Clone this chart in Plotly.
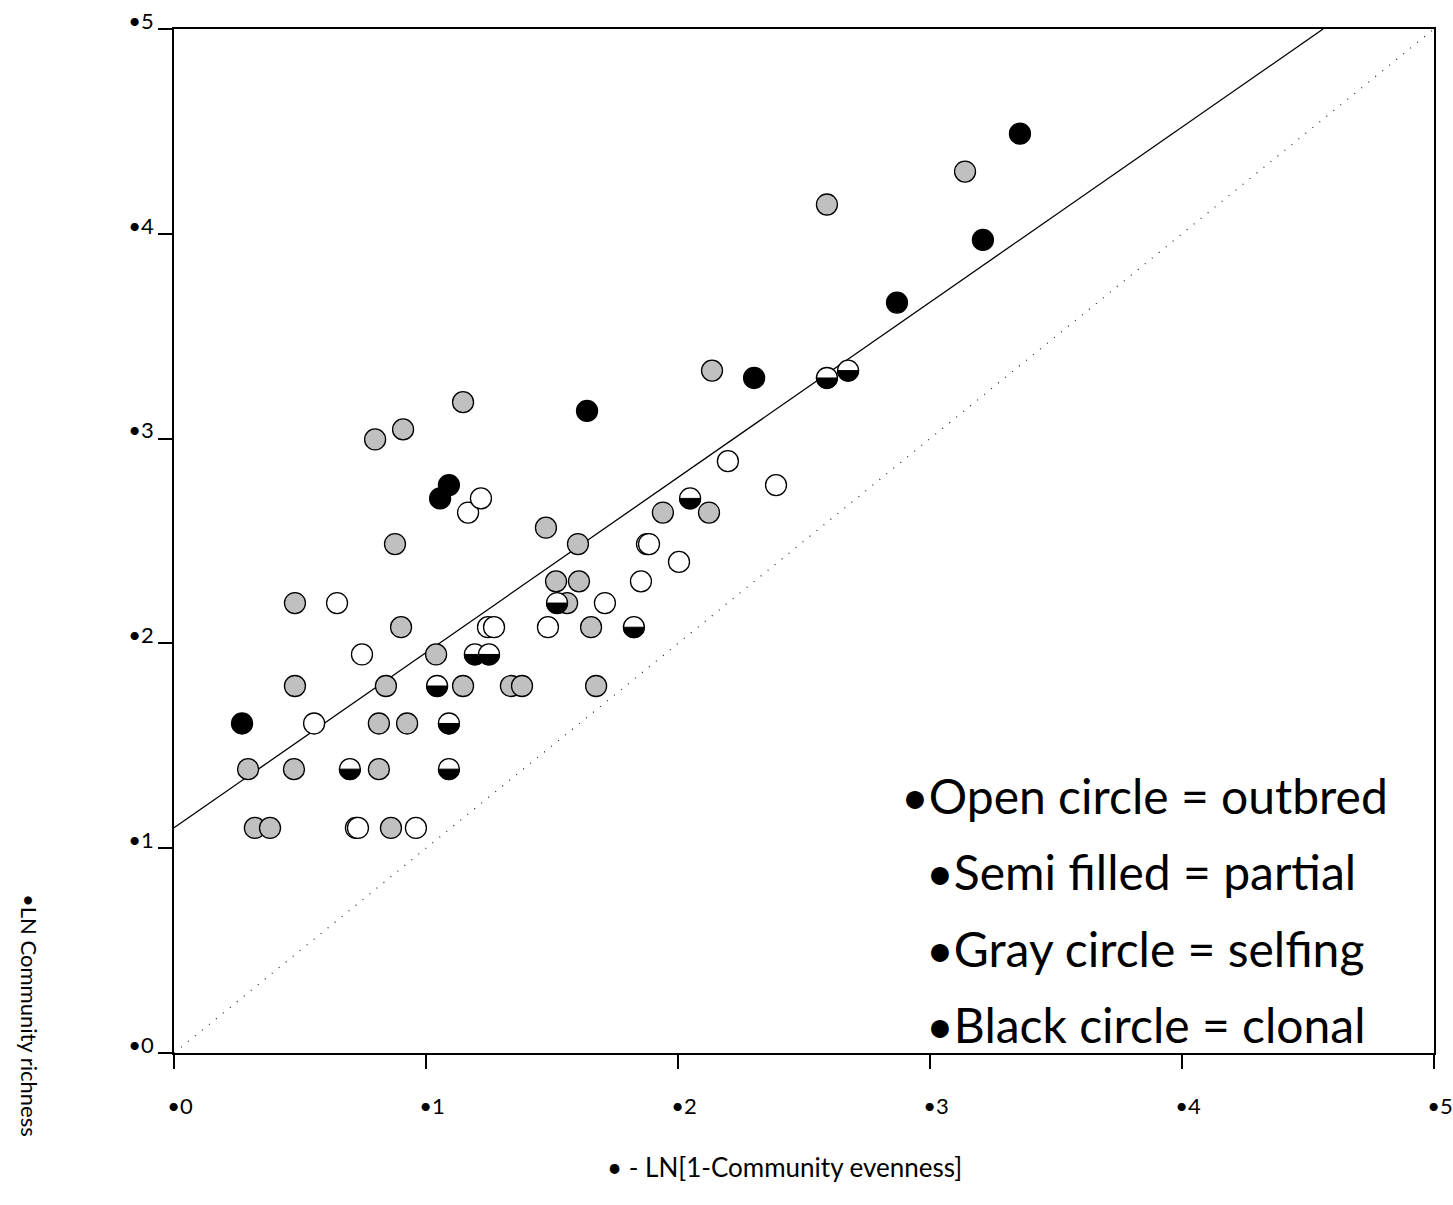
import plotly.graph_objects as go

# ---- data ----
open_x = [0.556, 0.647, 0.722, 0.730, 0.960, 0.746, 1.167, 1.218, 1.246, 1.270,
          1.484, 1.710, 1.853, 1.877, 1.885, 2.004, 2.198, 2.389]
open_y = [1.609, 2.197, 1.099, 1.099, 1.099, 1.946, 2.639, 2.708, 2.079, 2.079,
          2.079, 2.197, 2.303, 2.485, 2.485, 2.398, 2.890, 2.773]

gray_x = [0.294, 0.321, 0.381, 0.476, 0.480, 0.480, 0.798, 0.813, 0.813, 0.841,
          0.861, 0.877, 0.901, 0.909, 0.925, 1.040, 1.147, 1.147, 1.337, 1.381,
          1.476, 1.516, 1.560, 1.603, 1.607, 1.655, 1.675, 1.940, 2.123, 2.135,
          2.591, 3.139]
gray_y = [1.386, 1.099, 1.099, 1.386, 2.197, 1.792, 2.996, 1.609, 1.386, 1.792,
          1.099, 2.485, 2.079, 3.045, 1.609, 1.946, 3.178, 1.792, 1.792, 1.792,
          2.565, 2.303, 2.197, 2.485, 2.303, 2.079, 1.792, 2.639, 2.639, 3.332,
          4.143, 4.304]

black_x = [0.270, 1.056, 1.091, 1.639, 2.302, 2.869, 3.210, 3.357]
black_y = [1.609, 2.708, 2.773, 3.135, 3.296, 3.664, 3.970, 4.489]

semi_x = [0.698, 1.044, 1.091, 1.091, 1.194, 1.250, 1.520, 1.825, 2.048, 2.591, 2.675]
semi_y = [1.386, 1.792, 1.609, 1.386, 1.946, 1.946, 2.197, 2.079, 2.708, 3.296, 3.332]

fit_x = [0.0, 4.56]
fit_y = [1.10, 5.0]
ident_x = [0.0, 5.0]
ident_y = [0.0, 5.0]

tick_vals = [0, 1, 2, 3, 4, 5]
tick_text = ["•0", "•1", "•2", "•3", "•4", "•5"]

legend_lines = ["•Open circle = outbred", "•Semi filled = partial",
                "•Gray circle = selfing", "•Black circle = clonal"]

x_title = "• - LN[1-Community evenness]"
y_title = "•LN Community richness"

# ---- figure ----
W, H = 1453, 1205
ML, MR, MT, MB = 174, 19, 29, 152
PW, PH = W - ML - MR, H - MT - MB

FONT = "Lato, 'Open Sans', sans-serif"
MSIZE = 21
MLINE = dict(color="black", width=1.3)

fig = go.Figure()
fig.add_trace(go.Scatter(x=ident_x, y=ident_y, mode="lines",
                         line=dict(color="#222", width=1.2, dash="1px,8px"),
                         hoverinfo="skip"))
fig.add_trace(go.Scatter(x=fit_x, y=fit_y, mode="lines",
                         line=dict(color="black", width=1.3), hoverinfo="skip"))
fig.add_trace(go.Scatter(x=gray_x, y=gray_y, mode="markers", name="selfing",
                         marker=dict(size=MSIZE, color="#c0c0c0", line=MLINE)))
fig.add_trace(go.Scatter(x=open_x, y=open_y, mode="markers", name="outbred",
                         marker=dict(size=MSIZE, color="white", line=MLINE)))
fig.add_trace(go.Scatter(x=semi_x, y=semi_y, mode="markers", name="partial",
                         marker=dict(size=MSIZE, color="white", line=MLINE)))
fig.add_trace(go.Scatter(x=black_x, y=black_y, mode="markers", name="clonal",
                         marker=dict(size=MSIZE, color="black", line=MLINE)))

# bottom half fill for semi-filled markers (pixel-sized glyph anchored at data)
r = MSIZE / 2.0
k = 0.5523 * r
half_path = (f"M {-r},0 C {-r},{-k} {-k},{-r} 0,{-r} "
             f"C {k},{-r} {r},{-k} {r},0 Z")
for sx, sy in zip(semi_x, semi_y):
    fig.add_shape(type="path", xref="x", yref="y",
                  xsizemode="pixel", ysizemode="pixel",
                  xanchor=sx, yanchor=sy, path=half_path,
                  fillcolor="black", line=dict(color="black", width=1))


def px2paper_x(px):
    return (px - ML) / PW


def px2paper_y(py):
    return (H - MB - py) / PH


# legend text
leg_pos = [(899, 795), (924, 871), (924, 948), (924, 1024)]
for txt, (lx, ly) in zip(legend_lines, leg_pos):
    fig.add_annotation(text=txt, xref="paper", yref="paper",
                       x=px2paper_x(lx), y=px2paper_y(ly),
                       xanchor="left", yanchor="middle", showarrow=False,
                       font=dict(family=FONT, size=48, color="black"))

# axis titles
fig.add_annotation(text=x_title, xref="paper", yref="paper",
                   x=px2paper_x(784), y=px2paper_y(1167),
                   xanchor="center", yanchor="middle", showarrow=False,
                   font=dict(family=FONT, size=26, color="black"))
fig.add_annotation(text=y_title, xref="paper", yref="paper",
                   x=px2paper_x(30), y=px2paper_y(1015),
                   xanchor="center", yanchor="middle", showarrow=False,
                   textangle=90,
                   font=dict(family=FONT, size=22, color="black"))

axis_common = dict(range=[0, 5], autorange=False, automargin=False,
                   tickmode="array", tickvals=tick_vals,
                   ticktext=tick_text, showgrid=False, zeroline=False,
                   showline=True, linecolor="black", linewidth=1.5,
                   mirror=True, ticks="outside", ticklen=14, tickwidth=1.5,
                   tickcolor="black",
                   tickfont=dict(family=FONT, size=22, color="black"))

fig.update_layout(
    width=W, height=H, autosize=False,
    margin=dict(l=ML, r=MR, t=MT, b=MB),
    paper_bgcolor="white", plot_bgcolor="white",
    showlegend=False,
    xaxis=dict(**axis_common, ticklabelstandoff=19, ticklabelshift=6),
    yaxis=dict(**axis_common, ticklabelstandoff=0, ticklabelshift=-8),
)

fig.write_html("out.html")
